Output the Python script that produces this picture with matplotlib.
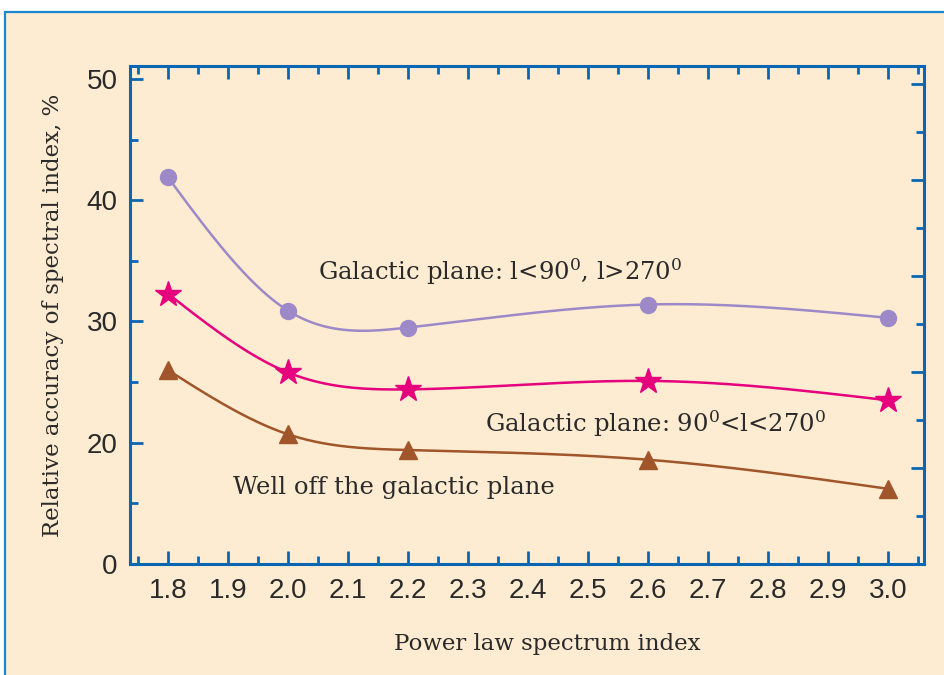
import matplotlib
matplotlib.use("Agg")
import matplotlib.pyplot as plt
from matplotlib.patches import Rectangle
from matplotlib.ticker import MultipleLocator, FixedLocator
import numpy as np

plt.rcParams['mathtext.fontset'] = 'dejavuserif'

# power law spectrum index
x = [1.8, 2.0, 2.2, 2.6, 3.0]
# relative accuracy of spectral index, %
inner_plane = [41.9, 30.9, 29.5, 31.4, 30.3]      # l<90, l>270
outer_plane = [32.3, 25.8, 24.4, 25.1, 23.5]      # 90<l<270
off_plane = [26.0, 20.7, 19.4, 18.6, 16.2]        # well off the plane

ytick_vals = [10, 20, 30, 40, 50]
ytick_labels = ['0', '20', '30', '40', '50']
xtick_vals = [1.8, 1.9, 2.0, 2.1, 2.2, 2.3, 2.4, 2.5, 2.6, 2.7, 2.8, 2.9, 3.0]

BG = '#fdecd1'
BLUE = '#0a66b2'
TXT = '#2a2a2a'


def natural_spline(xs, ys, n=300):
    # natural cubic spline, just for drawing the smooth curves
    xs = np.asarray(xs, float)
    ys = np.asarray(ys, float)
    k = len(xs)
    h = np.diff(xs)
    A = np.zeros((k, k))
    r = np.zeros(k)
    A[0, 0] = A[-1, -1] = 1
    for i in range(1, k - 1):
        A[i, i - 1] = h[i - 1]
        A[i, i] = 2 * (h[i - 1] + h[i])
        A[i, i + 1] = h[i]
        r[i] = 6 * ((ys[i + 1] - ys[i]) / h[i] - (ys[i] - ys[i - 1]) / h[i - 1])
    M = np.linalg.solve(A, r)
    xx = np.linspace(xs[0], xs[-1], n)
    yy = np.empty_like(xx)
    for j, xv in enumerate(xx):
        i = min(np.searchsorted(xs, xv, side='right') - 1, k - 2)
        t1 = xs[i + 1] - xv
        t0 = xv - xs[i]
        yy[j] = (M[i] * t1 ** 3 + M[i + 1] * t0 ** 3) / (6 * h[i]) \
            + (ys[i] / h[i] - M[i] * h[i] / 6) * t1 \
            + (ys[i + 1] / h[i] - M[i + 1] * h[i] / 6) * t0
    return xx, yy


fig = plt.figure(figsize=(9.44, 6.75), dpi=100, facecolor='white')
fig.patches.append(Rectangle((5 / 944, -0.1), 1.2, (675 - 12) / 675 + 0.1,
                             transform=fig.transFigure, facecolor=BG,
                             edgecolor='#1a86d0', linewidth=1.6, zorder=-10))

ax = fig.add_axes([130 / 944, 1 - 564 / 675, (924 - 130) / 944, (564 - 66) / 675])
ax.set_facecolor('none')
ax.set_xlim(1.737, 3.06)
ax.set_ylim(10, 51.07)

series = [
    (inner_plane, '#9e89c8', 'o', 11.5),
    (outer_plane, '#e6007e', '*', 19),
    (off_plane, '#a0552a', '^', 13),
]
for ys, col, mk, ms in series:
    xx, yy = natural_spline(x, ys)
    ax.plot(xx, yy, color=col, lw=1.8, zorder=2)
    ax.plot(x, ys, ls='none', marker=mk, ms=ms, color=col, mec=col, zorder=3)

for sp in ax.spines.values():
    sp.set_color(BLUE)
    sp.set_linewidth(2.2)

ax.xaxis.set_major_locator(FixedLocator(xtick_vals))
ax.set_xticklabels(['%.1f' % v for v in xtick_vals])
ax.xaxis.set_minor_locator(MultipleLocator(0.05))
ax.yaxis.set_major_locator(FixedLocator(ytick_vals))
ax.set_yticklabels(ytick_labels)
ax.yaxis.set_minor_locator(FixedLocator([15, 25, 35, 45]))
ax.tick_params(which='both', direction='in', color=BLUE, width=2,
               top=True, right=False, labelsize=20, labelcolor=TXT)
ax.tick_params(which='major', length=9.5)
ax.tick_params(which='minor', length=5.5)
ax.tick_params(axis='x', pad=10)
ax.tick_params(axis='y', pad=9)
for lab in ax.get_xticklabels() + ax.get_yticklabels():
    lab.set_family('Liberation Sans')

# right side has its own tick spacing
ax2 = ax.twinx()
ax2.set_ylim(0, 10.375)
ax2.yaxis.set_major_locator(FixedLocator([2, 4, 6, 8, 10]))
ax2.yaxis.set_minor_locator(FixedLocator([1, 3, 5, 7, 9]))
ax2.tick_params(which='both', direction='in', color=BLUE, width=2, labelright=False)
ax2.tick_params(which='major', length=9.5)
ax2.tick_params(which='minor', length=5.5)
for sp in ax2.spines.values():
    sp.set_visible(False)

serif = ['DejaVu Serif']
ax.set_xlabel('Power law spectrum index', family=serif, fontsize=16.5, color=TXT)
ax.xaxis.set_label_coords(0.525, -0.138)
ax.set_ylabel('Relative accuracy of spectral index, %', family=serif, fontsize=16.5,
              color=TXT, labelpad=16)

sup0 = r'$^{\mathrm{0}}$'
ax.text(2.05, 34.1, 'Galactic plane: l<90' + sup0 + ', l>270' + sup0, family=serif,
        fontsize=17.5, color=TXT, va='center', ha='left')
ax.text(2.328, 21.56, 'Galactic plane: 90' + sup0 + '<l<270' + sup0, family=serif,
        fontsize=17.5, color=TXT, va='center', ha='left')
ax.text(1.908, 16.28, 'Well off the galactic plane', family=serif,
        fontsize=17.5, color=TXT, va='center', ha='left')

fig.savefig('out.png', dpi=100, facecolor=fig.get_facecolor())
